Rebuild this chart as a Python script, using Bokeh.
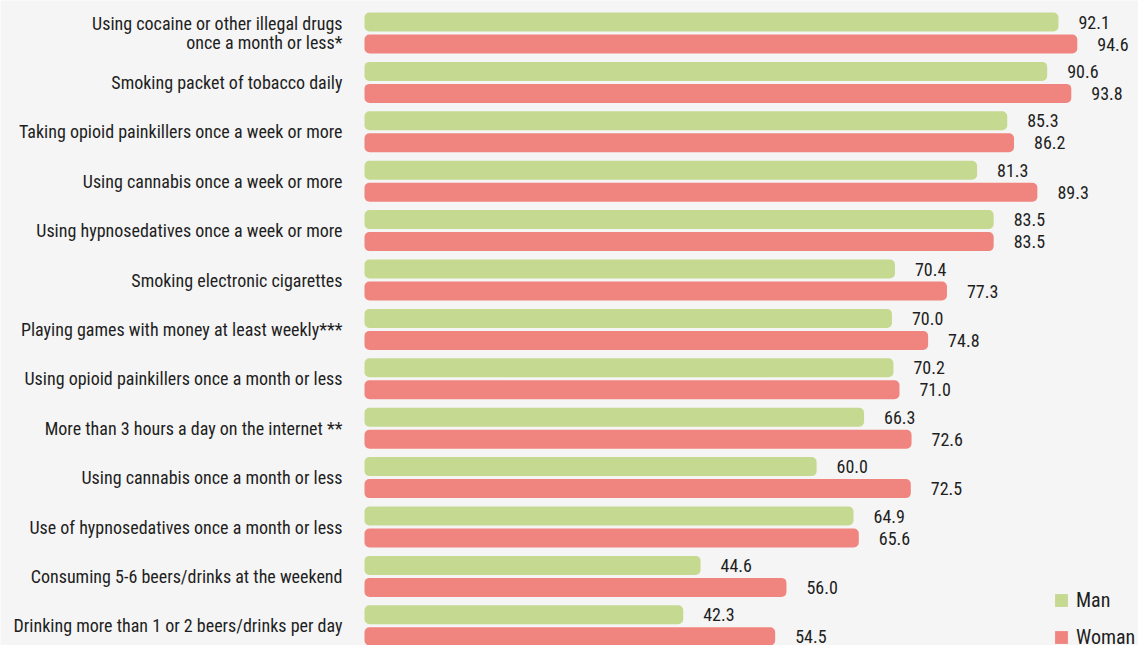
from bokeh.plotting import figure
from bokeh.models import ColumnDataSource, Range1d
from bokeh.transform import dodge
from bokeh.core.properties import value
from bokeh.embed import file_html
from bokeh.resources import INLINE

categories = [
    "Using cocaine or other illegal drugs\nonce a month or less*",
    "Smoking packet of tobacco daily",
    "Taking opioid painkillers once a week or more",
    "Using cannabis once a week or more",
    "Using hypnosedatives once a week or more",
    "Smoking electronic cigarettes",
    "Playing games with money at least weekly***",
    "Using opioid painkillers once a month or less",
    "More than 3 hours a day on the internet **",
    "Using cannabis once a month or less",
    "Use of hypnosedatives once a month or less",
    "Consuming 5-6 beers/drinks at the weekend",
    "Drinking more than 1 or 2 beers/drinks per day",
]
man = [92.1, 90.6, 85.3, 81.3, 83.5, 70.4, 70.0, 70.2, 66.3, 60.0, 64.9, 44.6, 42.3]
woman = [94.6, 93.8, 86.2, 89.3, 83.5, 77.3, 74.8, 71.0, 72.6, 72.5, 65.6, 56.0, 54.5]
series_names = ["Man", "Woman"]

W, H = 1138, 645
X0 = 364.0      # pixel of value 0
PX = 7.535      # pixels per unit
ROW = 49.4      # pixels per row
TOP = 32.5      # pixel of first row center

FONT = "Roboto Condensed, Liberation Sans Narrow, Roboto"
GREEN = "#c5d991"
RED = "#f0847e"
BG = "#f5f5f5"
TXT = "#1e1e1e"

src = ColumnDataSource(dict(
    y=list(range(len(categories))),
    cat=categories,
    man=man,
    woman=woman,
    man_lbl=[f"{v:.1f}" for v in man],
    woman_lbl=[f"{v:.1f}" for v in woman],
))

p = figure(width=W, height=H, output_backend="svg", toolbar_location=None,
           x_range=Range1d(-X0 / PX, (W - X0) / PX),
           y_range=Range1d((H - TOP) / ROW, -TOP / ROW),
           min_border=0, background_fill_color=BG, border_fill_color=BG,
           outline_line_color=None)
p.axis.visible = False
p.grid.visible = False

off = 11.0 / ROW
bh = 19.0 / ROW
p.hbar(y=dodge("y", -off), right="man", left=0, height=bh, source=src,
       fill_color=GREEN, line_color=None, border_radius=5, legend_label=series_names[0])
p.hbar(y=dodge("y", off), right="woman", left=0, height=bh, source=src,
       fill_color=RED, line_color=None, border_radius=5, legend_label=series_names[1])

p.text(x="man", y=dodge("y", -off), text="man_lbl", source=src, x_offset=20,
       text_baseline="middle", text_align="left", text_font=value(FONT),
       text_font_size="18px", text_color=TXT)
p.text(x="woman", y=dodge("y", off), text="woman_lbl", source=src, x_offset=20,
       text_baseline="middle", text_align="left", text_font=value(FONT),
       text_font_size="18px", text_color=TXT)
p.text(x=0, y="y", text="cat", source=src, x_offset=-22,
       text_baseline="middle", text_align="right", text_font=value(FONT),
       text_font_size="18px", text_color=TXT, text_line_height=0.9)

lg = p.legend[0]
lg.location = (1053, -4)
lg.background_fill_alpha = 0
lg.border_line_color = None
lg.padding = 0
lg.margin = 0
lg.glyph_width = 16
lg.glyph_height = 16
lg.label_height = 16
lg.spacing = 13
lg.label_standoff = 7
lg.label_text_font = FONT
lg.label_text_font_size = "20px"
lg.label_text_color = TXT

open("out.html", "w").write(file_html(p, INLINE))
